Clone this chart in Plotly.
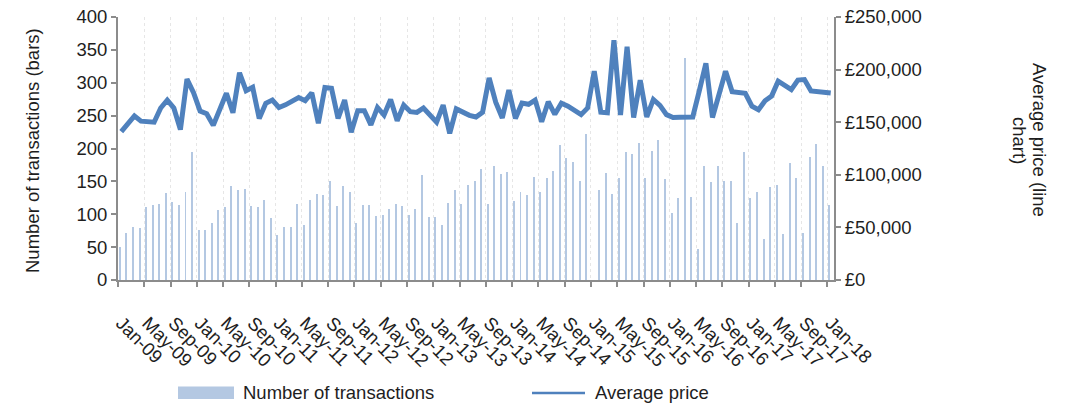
import plotly.graph_objects as go

# ---------------- data ----------------
tick_labels = ["Jan-09", "May-09", "Sep-09", "Jan-10", "May-10", "Sep-10", "Jan-11",
               "May-11", "Sep-11", "Jan-12", "May-12", "Sep-12", "Jan-13", "May-13",
               "Sep-13", "Jan-14", "May-14", "Sep-14", "Jan-15", "May-15", "Sep-15",
               "Jan-16", "May-16", "Sep-16", "Jan-17", "May-17", "Sep-17", "Jan-18"]

# monthly transactions, Jan-09 .. Jan-18
transactions = [50, 72, 80, 79, 111, 114, 115, 132, 118, 114, 134, 194,
                76, 76, 87, 106, 111, 143, 137, 138, 112, 111, 121, 94,
                68, 80, 80, 115, 83, 121, 131, 129, 150, 112, 143, 134,
                87, 114, 114, 97, 99, 108, 115, 112, 99, 108, 159, 96,
                96, 83, 117, 137, 115, 144, 150, 169, 115, 173, 161, 164,
                120, 134, 129, 156, 134, 155, 166, 205, 185, 179, 150, 222,
                None, 137, 162, 131, 155, 194, 191, 208, 155, 196, 213, 153,
                102, 125, 337, 126, 47, 173, 149, 173, 150, 150, 87, 194,
                125, 134, 62, 141, 144, 70, 178, 155, 71, 187, 207, 173,
                114]

# monthly average price (GBP), Jan-09 .. Jan-18
avg_price = [141000, 148000, 156000, 151000, 150500, 150000, 163500, 171000, 163500, 143000, 191000, 178000,
             160500, 158000, 147000, 162500, 177500, 159000, 197000, 180000, 183300, 153600, 168000, 171000,
             164000, 166500, 170000, 173500, 170500, 178000, 149000, 183000, 182300, 153600, 171000, 140500,
             161000, 161000, 147500, 164000, 156800, 171600, 151400, 166300, 160000, 159300, 163500, 156300,
             150000, 166300, 139400, 162600, 159000, 156500, 155000, 159500, 192000, 169000, 154000, 180500,
             153600, 168200, 167000, 171000, 150400, 169500, 157500, 168000, 165200, 161500, 157200, 163600,
             198500, 159500, 159000, 228000, 156800, 221700, 154500, 190000, 155000, 171600, 166000, 157200,
             154500, 154600, 154600, 155000, 180000, 206000, 154500, 177000, 198500, 179000, 178700, 177500,
             165200, 161800, 170300, 174800, 189000, 184500, 181000, 190000, 190500, 179700, 179000, 178500,
             177700]

month_index = list(range(len(transactions)))
label_positions = month_index[::4]

# ---------------- style ----------------
FONT = "Liberation Sans, Arial, sans-serif"
TXT = "#1e1e1e"
AXIS = "#8c8c8c"
BAR = "#B4C8E2"
LINE = "#4F81BD"
FS = 18.5

fig = go.Figure()
fig.add_trace(go.Bar(x=month_index, y=transactions, name="Number of transactions",
                     marker=dict(color=BAR, line=dict(width=0)),
                     width=0.15, offset=-0.3, yaxis="y", showlegend=False))
fig.add_trace(go.Scatter(x=month_index, y=avg_price, name="Average price", mode="lines",
                         line=dict(color=LINE, width=5), yaxis="y2", showlegend=False))

# plot area: x 118..834, y 17..280 of the 1071x406 window
fig.update_layout(
    width=1071, height=406,
    margin=dict(l=118, r=237, t=17, b=126, autoexpand=False),
    paper_bgcolor="white", plot_bgcolor="white",
    font=dict(family=FONT, size=FS, color=TXT),
    showlegend=False,
    bargap=0,
    xaxis=dict(range=[-0.5, 108.5], tickmode="array", tickvals=label_positions,
               ticktext=tick_labels, tickangle=45, ticks="", showgrid=False,
               showline=True, linecolor=AXIS, linewidth=2, zeroline=False,
               automargin=False, ticklabeloverflow="allow",
               ticklabelstandoff=23, tickfont=dict(size=FS, color=TXT),
               minor=dict(tickmode="linear", tick0=-0.5, dtick=4, ticks="outside",
                          ticklen=5, tickwidth=1.5, tickcolor=AXIS, showgrid=True,
                          gridcolor="#e6e6e6", griddash="dot", gridwidth=1)),
    yaxis=dict(range=[0, 400], dtick=50, tick0=0, ticks="outside", ticklen=5,
               tickwidth=1.5, tickcolor=AXIS, showline=True, linecolor=AXIS,
               linewidth=2, showgrid=False, zeroline=False, automargin=False,
               ticklabeloverflow="allow",
               tickfont=dict(size=FS, color=TXT)),
    yaxis2=dict(range=[0, 250000], dtick=50000, tick0=0, overlaying="y", side="right",
                tickprefix="£", tickformat=",d", ticks="outside", ticklen=5,
                tickwidth=1.5, tickcolor=AXIS, showline=True, linecolor=AXIS,
                linewidth=2, showgrid=False, zeroline=False, automargin=False,
                ticklabeloverflow="allow",
                tickfont=dict(size=FS, color=TXT)),
)

# helpers: window pixel -> paper coords (plot area spans x 118..834, y 17..280)
def px_x(p):
    return (p - 118) / 716

def px_y(p):
    return (280 - p) / 263

# axis titles
fig.add_annotation(text="Number of transactions (bars)", xref="paper", yref="paper",
                   x=px_x(32), y=px_y(151), xanchor="center", yanchor="middle",
                   textangle=-90, showarrow=False, font=dict(size=FS, color=TXT))
fig.add_annotation(text="Average price (line", xref="paper", yref="paper",
                   x=px_x(1040), y=px_y(140), xanchor="center", yanchor="middle",
                   textangle=90, showarrow=False, font=dict(size=FS, color=TXT))
fig.add_annotation(text="chart)", xref="paper", yref="paper",
                   x=px_x(1020), y=px_y(140), xanchor="center", yanchor="middle",
                   textangle=90, showarrow=False, font=dict(size=FS, color=TXT))

# legend (drawn as swatches + text)
fig.add_shape(type="rect", xref="paper", yref="paper", x0=px_x(178), x1=px_x(234),
              y0=px_y(399), y1=px_y(386.5), fillcolor=BAR, line=dict(width=0))
fig.add_annotation(text="Number of transactions", xref="paper", yref="paper",
                   x=px_x(241), y=px_y(392), xanchor="left", yanchor="middle",
                   showarrow=False, font=dict(size=FS, color=TXT))
fig.add_shape(type="line", xref="paper", yref="paper", x0=px_x(532), x1=px_x(585),
              y0=px_y(393), y1=px_y(393), line=dict(color=LINE, width=2.5))
fig.add_annotation(text="Average price", xref="paper", yref="paper",
                   x=px_x(593), y=px_y(392), xanchor="left", yanchor="middle",
                   showarrow=False, font=dict(size=FS, color=TXT))

# remove the default 8px page margin so the figure fills the window exactly
fig.write_html("out.html", config={"displayModeBar": False},
               post_script="document.body.style.margin='0px';")
